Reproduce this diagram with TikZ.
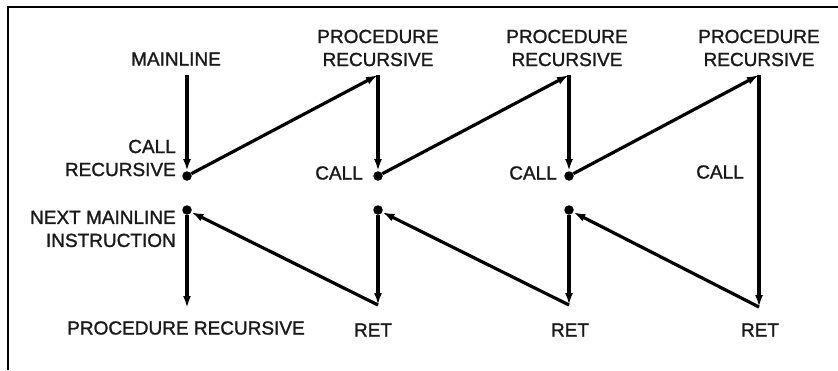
\documentclass[tikz,border=0pt]{standalone}
\usepackage{fontspec}
\setmainfont{Liberation Sans}[BoldFont=Liberation Sans, BoldFeatures={FakeBold=1.3}]
\usetikzlibrary{arrows.meta}

\begin{document}
\begin{tikzpicture}[x=1pt,y=-1pt,
  flow/.style={line width=3.2pt, -{Latex[length=12pt,width=8pt]}},
  junction/.style={circle, fill=black, inner sep=0pt, minimum size=9.5pt},
  lbl/.style={font=\fontsize{19}{23}\selectfont\bfseries, inner sep=0pt, text=black!90},
]
\useasboundingbox (0,0) rectangle (838,370);
% outer frame (left and top edges)
\draw[line width=2pt] (8,370) -- (8,7) -- (838,7);

% column points
\coordinate (top1) at (187,75);
\node[junction] (c1) at (187,176) {};
\node[junction] (r1) at (187,210) {};
\coordinate (bot1) at (187,308);

\coordinate (top2) at (378,75);
\node[junction] (c2) at (378,176) {};
\node[junction] (r2) at (378,210) {};
\coordinate (bot2) at (378,305);

\coordinate (top3) at (569,75);
\node[junction] (c3) at (569,176) {};
\node[junction] (r3) at (569,210) {};
\coordinate (bot3) at (569,305);

\coordinate (top4) at (759,75);
\coordinate (bot4) at (759,307);

% call chain
\draw[flow] (top1) -- (c1);
\draw[flow] (c1) -- (top2);
\draw[flow] (top2) -- (c2);
\draw[flow] (c2) -- (top3);
\draw[flow] (top3) -- (c3);
\draw[flow] (c3) -- (top4);
\draw[flow] (top4) -- (bot4);
% return chain
\draw[flow] (bot4) -- (r3);
\draw[flow] (r3) -- (bot3);
\draw[flow] (bot3) -- (r2);
\draw[flow] (r2) -- (bot2);
\draw[flow] (bot2) -- (r1);
\draw[flow] (r1) -- (bot1);

% labels
\node[lbl] (mainline) at (176,59) {MAINLINE};
\node[lbl, align=center] (proc2) at (378,48) {PROCEDURE\\RECURSIVE};
\node[lbl, align=center] (proc3) at (567,48) {PROCEDURE\\RECURSIVE};
\node[lbl, align=center] (proc4) at (759,48) {PROCEDURE\\RECURSIVE};
\node[lbl, align=right, anchor=east] (callrec) at (176,158) {CALL\\RECURSIVE};
\node[lbl, anchor=east] (call2) at (363,173) {CALL};
\node[lbl, anchor=east] (call3) at (557,173) {CALL};
\node[lbl] (call4) at (720,172) {CALL};
\node[lbl, align=right, anchor=east] (next) at (176,229) {NEXT MAINLINE\\INSTRUCTION};
\node[lbl] (procbot) at (186,328) {PROCEDURE RECURSIVE};
\node[lbl] (ret2) at (373,330) {RET};
\node[lbl] (ret3) at (570,330) {RET};
\node[lbl] (ret4) at (760,330) {RET};
\end{tikzpicture}
\end{document}
